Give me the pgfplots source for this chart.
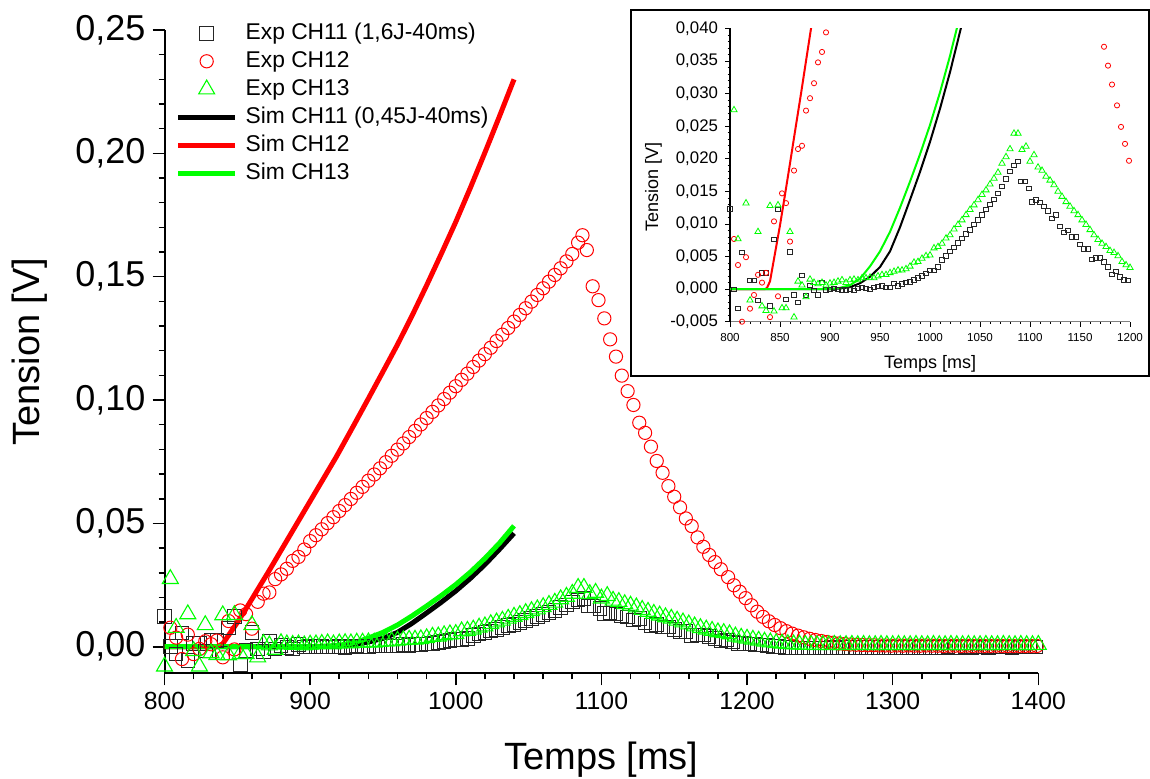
\documentclass[border=0pt]{standalone}
\usepackage{pgfplots}
\pgfplotsset{compat=1.18}
\usepackage{pgfplotstable}
\usepackage{fontspec}
\setmainfont{Liberation Sans}
\definecolor{cred}{RGB}{255,0,0}
\definecolor{cgreen}{RGB}{0,255,0}

\pgfplotstableread{
t v
800 0.0123
804 0.0000
808 -0.0030
812 0.0056
816 -0.0055
820 0.0013
824 0.0013
828 -0.0017
832 0.0025
836 0.0025
840 -0.0026
844 0.0076
848 0.0122
852 -0.0074
856 -0.0016
860 0.0057
864 -0.0009
868 -0.0020
872 0.0021
876 -0.0010
880 0.0006
884 -0.0002
888 -0.0009
892 0.0010
896 -0.0001
900 0.0000
904 0.0001
908 0.0000
912 -0.0001
916 -0.0001
920 0.0000
924 -0.0002
928 0.0001
932 0.0003
936 0.0001
940 0.0000
944 0.0003
948 0.0004
952 0.0005
956 0.0003
960 0.0003
964 0.0009
968 0.0005
972 0.0008
976 0.0010
980 0.0011
984 0.0014
988 0.0017
992 0.0020
996 0.0024
1000 0.0029
1004 0.0029
1008 0.0034
1012 0.0045
1016 0.0051
1020 0.0058
1024 0.0064
1028 0.0071
1032 0.0078
1036 0.0085
1040 0.0091
1044 0.0099
1048 0.0106
1052 0.0114
1056 0.0122
1060 0.0130
1064 0.0138
1068 0.0147
1072 0.0158
1076 0.0169
1080 0.0181
1084 0.0190
1088 0.0196
1091 0.0165
1095 0.0165
1099 0.0155
1102 0.0134
1106 0.0137
1110 0.0133
1114 0.0127
1118 0.0120
1122 0.0109
1126 0.0114
1130 0.0096
1134 0.0087
1138 0.0090
1142 0.0080
1146 0.0080
1150 0.0069
1154 0.0062
1158 0.0062
1162 0.0046
1166 0.0048
1170 0.0048
1174 0.0042
1178 0.0034
1182 0.0023
1186 0.0027
1190 0.0019
1194 0.0014
1198 0.0013
1202 0.0011
1206 0.0009
1210 0.0007
1214 0.0004
1218 0.0002
1222 0.0000
1226 -0.0002
1230 -0.0004
1234 -0.0005
1238 -0.0006
1242 -0.0006
1246 -0.0005
1250 -0.0006
1254 -0.0005
1258 -0.0004
1262 -0.0005
1266 -0.0004
1270 -0.0004
1274 -0.0003
1278 -0.0004
1282 -0.0003
1286 -0.0003
1290 -0.0004
1294 -0.0003
1298 -0.0002
1302 -0.0003
1306 -0.0003
1310 -0.0002
1314 -0.0003
1318 -0.0002
1322 -0.0002
1326 -0.0003
1330 -0.0002
1334 -0.0002
1338 -0.0001
1342 -0.0002
1346 -0.0002
1350 -0.0001
1354 -0.0002
1358 -0.0001
1362 -0.0001
1366 -0.0002
1370 -0.0001
1374 -0.0001
1378 -0.0001
1382 -0.0002
1386 -0.0001
1390 -0.0001
1394 -0.0001
1398 -0.0001
}\expA

\pgfplotstableread{
t v
804 0.0077
808 0.0037
812 -0.0050
816 0.0049
820 -0.0030
824 -0.0009
828 0.0022
832 0.0010
836 0.0025
840 -0.0043
844 0.0104
848 -0.0011
852 0.0147
856 0.0132
860 0.0073
864 0.0182
868 0.0215
872 0.0220
876 0.0274
880 0.0293
884 0.0316
888 0.0348
892 0.0364
896 0.0394
900 0.0428
904 0.0452
908 0.0476
912 0.0501
916 0.0525
920 0.0550
924 0.0574
928 0.0599
932 0.0624
936 0.0648
940 0.0673
944 0.0698
948 0.0723
952 0.0748
956 0.0774
960 0.0799
964 0.0824
968 0.0850
972 0.0875
976 0.0901
980 0.0927
984 0.0952
988 0.0978
992 0.1004
996 0.1030
1000 0.1056
1004 0.1082
1008 0.1107
1012 0.1134
1016 0.1160
1020 0.1186
1024 0.1212
1028 0.1239
1032 0.1265
1036 0.1292
1040 0.1318
1044 0.1345
1048 0.1372
1052 0.1399
1056 0.1426
1060 0.1453
1064 0.1480
1068 0.1507
1072 0.1534
1076 0.1562
1080 0.1592
1084 0.1638
1087 0.1668
1090 0.1608
1094 0.1461
1098 0.1405
1102 0.1331
1106 0.1246
1110 0.1176
1114 0.1099
1118 0.1036
1122 0.0980
1126 0.0908
1130 0.0867
1134 0.0811
1138 0.0753
1142 0.0705
1146 0.0651
1150 0.0608
1154 0.0565
1158 0.0520
1162 0.0489
1166 0.0443
1170 0.0405
1174 0.0372
1178 0.0343
1182 0.0314
1187 0.0282
1191 0.0249
1195 0.0223
1199 0.0197
1203 0.0168
1207 0.0142
1211 0.0121
1215 0.0103
1219 0.0088
1223 0.0075
1227 0.0063
1231 0.0053
1235 0.0045
1239 0.0038
1243 0.0032
1247 0.0027
1251 0.0023
1255 0.0019
1259 0.0016
1263 0.0013
1267 0.0011
1271 0.0009
1275 0.0008
1279 0.0007
1283 0.0006
1287 0.0006
1291 0.0005
1295 0.0005
1299 0.0004
1303 0.0005
1307 0.0004
1311 0.0005
1315 0.0004
1319 0.0004
1323 0.0005
1327 0.0004
1331 0.0004
1335 0.0003
1339 0.0004
1343 0.0004
1347 0.0003
1351 0.0004
1355 0.0003
1359 0.0004
1363 0.0003
1367 0.0003
1371 0.0004
1375 0.0003
1379 0.0003
1383 0.0003
1387 0.0003
1391 0.0003
1395 0.0003
1399 0.0003
}\expB

\pgfplotstableread{
t v
800 -0.0080
804 0.0275
808 0.0077
816 0.0132
820 -0.0017
824 -0.0080
828 0.0088
832 -0.0026
836 -0.0033
840 0.0128
844 -0.0034
848 0.0129
852 -0.0029
856 -0.0029
860 0.0088
864 -0.0043
868 0.0012
872 0.0006
876 -0.0012
880 0.0015
884 0.0010
888 0.0008
892 0.0010
896 0.0006
900 0.0009
904 0.0010
908 0.0012
912 0.0014
916 0.0010
920 0.0014
924 0.0015
928 0.0014
932 0.0017
936 0.0017
940 0.0018
944 0.0017
948 0.0020
952 0.0022
956 0.0022
960 0.0025
964 0.0027
968 0.0029
972 0.0029
976 0.0031
980 0.0035
984 0.0041
988 0.0042
992 0.0047
996 0.0051
1000 0.0052
1004 0.0063
1008 0.0065
1012 0.0070
1016 0.0078
1020 0.0083
1024 0.0092
1028 0.0099
1032 0.0106
1036 0.0114
1040 0.0122
1044 0.0129
1048 0.0137
1052 0.0145
1056 0.0152
1060 0.0161
1064 0.0170
1068 0.0179
1072 0.0193
1076 0.0203
1080 0.0215
1084 0.0239
1088 0.0239
1092 0.0214
1096 0.0219
1100 0.0196
1104 0.0206
1108 0.0187
1112 0.0182
1116 0.0173
1120 0.0167
1124 0.0160
1128 0.0150
1132 0.0142
1136 0.0134
1140 0.0127
1144 0.0120
1148 0.0114
1152 0.0106
1156 0.0099
1160 0.0091
1164 0.0083
1168 0.0076
1172 0.0070
1176 0.0065
1180 0.0059
1184 0.0056
1188 0.0051
1192 0.0042
1196 0.0037
1200 0.0033
1204 0.0029
1208 0.0025
1212 0.0021
1216 0.0018
1220 0.0015
1224 0.0013
1228 0.0011
1232 0.0010
1236 0.0009
1240 0.0008
1244 0.0008
1248 0.0007
1252 0.0008
1256 0.0007
1260 0.0008
1264 0.0007
1268 0.0007
1272 0.0008
1276 0.0007
1280 0.0008
1284 0.0007
1288 0.0007
1292 0.0008
1296 0.0007
1300 0.0007
1304 0.0008
1308 0.0007
1312 0.0007
1316 0.0008
1320 0.0007
1324 0.0007
1328 0.0008
1332 0.0007
1336 0.0007
1340 0.0008
1344 0.0007
1348 0.0007
1352 0.0008
1356 0.0007
1360 0.0007
1364 0.0008
1368 0.0007
1372 0.0007
1376 0.0008
1380 0.0007
1384 0.0007
1388 0.0008
1392 0.0007
1396 0.0007
1400 0.0008
}\expC

\pgfplotstableread{
t v
800 0.0000
900 0.0000
910 0.0001
920 0.0003
930 0.0009
940 0.0019
950 0.0034
960 0.0058
970 0.0095
980 0.0137
990 0.0180
1000 0.0226
1010 0.0277
1020 0.0333
1030 0.0395
1040 0.0460
}\simA

\pgfplotstableread{
t v
800 0.0000
835 0.0000
837 0.0002
840 0.0012
845 0.0055
850 0.0098
855 0.0145
860 0.0193
865 0.0242
871 0.0300
880 0.0390
890 0.0490
900 0.0590
910 0.0690
918 0.0770
930 0.0898
940 0.1006
950 0.1115
960 0.1225
970 0.1342
980 0.1465
990 0.1592
1000 0.1722
1010 0.1860
1020 0.2003
1030 0.2150
1040 0.2300
}\simB

\pgfplotstableread{
t v
800 0.0000
895 0.0000
900 0.0000
910 0.0002
920 0.0006
930 0.0016
940 0.0035
950 0.0058
960 0.0088
970 0.0125
980 0.0165
990 0.0207
1000 0.0252
1010 0.0302
1020 0.0358
1030 0.0420
1040 0.0490
}\simC

\pgfplotsset{
  expleg/.style={legend image code/.code={\draw[##1, only marks] plot coordinates {(14.25pt,0pt)};}},
}

\begin{document}
\begin{tikzpicture}
\path[use as bounding box] (0,0) rectangle (575pt,389pt);
\begin{axis}[
  at={(82.25pt,52.35pt)}, anchor=south west,
  scale only axis, width=436.9pt, height=321.65pt,
  xmin=800, xmax=1400, ymin=-0.01078, ymax=0.25,
  scaled ticks=false,
  axis x line*=bottom, axis y line*=left,
  axis line style={-, line width=1pt},
  tick align=outside,
  major tick length=6pt, minor tick length=3pt,
  every tick/.style={black, line width=0.8pt},
  xtick={800,900,1000,1100,1200,1300,1400},
  xticklabels={800,900,1000,1100,1200,1300,1400},
  minor x tick num=4,
  ytick={0,0.05,0.1,0.15,0.2,0.25},
  yticklabels={{0,00},{0,05},{0,10},{0,15},{0,20},{0,25}},
  minor y tick num=4,
  xticklabel style={font=\fontsize{12.4}{14}\selectfont},
  yticklabel style={font=\fontsize{18}{20}\selectfont},
  xlabel={Temps [ms]}, ylabel={Tension [V]},
  every axis x label/.style={at={(axis description cs:0.5,-0.1503)}, anchor=base, font=\fontsize{19}{22}\selectfont},
  every axis y label/.style={at={(axis description cs:-0.1425,0.5)}, rotate=90, anchor=base, font=\fontsize{19}{22}\selectfont},
  legend style={at={(axis description cs:0.0128,1.012)}, anchor=north west, draw=none, fill=none,
    inner sep=0pt, outer sep=0pt, row sep=3pt, column sep=4pt,
    font=\fontsize{11.4}{13}\selectfont,
    nodes={inner sep=0pt, text height=8.5pt, text depth=2.5pt}},
  legend cell align=left,
  legend image code/.code={\draw[#1] (0pt,0pt) -- (28.5pt,0pt);},
]
\addplot[only marks, mark=square, mark size=3.4pt, mark options={draw=black!85, line width=0.5pt}, expleg] table[x=t,y=v] {\expA};
\addlegendentry{Exp CH11 (1,6J-40ms)}
\addplot[only marks, mark=o, mark size=3.3pt, mark options={draw=cred, line width=0.5pt}, expleg] table[x=t,y=v] {\expB};
\addlegendentry{Exp CH12}
\addplot[only marks, mark=triangle, mark size=4.6pt, mark options={draw=cgreen, line width=0.55pt}, expleg] table[x=t,y=v] {\expC};
\addlegendentry{Exp CH13}
\addplot[black, line width=2.5pt, no marks] table[x=t,y=v] {\simA};
\addlegendentry{Sim CH11 (0,45J-40ms)}
\addplot[cred, line width=2.5pt, no marks] table[x=t,y=v] {\simB};
\addlegendentry{Sim CH12}
\addplot[cgreen, line width=2.5pt, no marks] table[x=t,y=v] {\simC};
\addlegendentry{Sim CH13}
\end{axis}

\draw[line width=1pt, fill=white] (315.5pt,201pt) rectangle (574.5pt,384pt);

\begin{axis}[
  at={(365pt,228.15pt)}, anchor=south west,
  scale only axis, width=200pt, height=146.6pt,
  xmin=800, xmax=1200, ymin=-0.005, ymax=0.04,
  scaled ticks=false,
  axis x line*=bottom, axis y line*=left,
  axis line style={-, line width=0.6pt},
  x axis line style={gray},
  tick align=outside,
  major tick length=2.5pt, minor tick length=1.2pt,
  every tick/.style={black, line width=0.4pt},
  xtick={800,850,900,950,1000,1050,1100,1150,1200},
  xticklabels={800,850,900,950,1000,1050,1100,1150,1200},
  minor x tick num=4,
  ytick={-0.005,0,0.005,0.01,0.015,0.02,0.025,0.03,0.035,0.04},
  yticklabels={{-0,005},{0,000},{0,005},{0,010},{0,015},{0,020},{0,025},{0,030},{0,035},{0,040}},
  minor y tick num=4,
  xticklabel style={font=\fontsize{5.8}{7}\selectfont},
  yticklabel style={font=\fontsize{8.4}{10}\selectfont},
  xlabel={Temps [ms]}, ylabel={Tension [V]},
  every axis x label/.style={at={(axis description cs:0.5,-0.158)}, anchor=base, font=\fontsize{9}{11}\selectfont},
  every axis y label/.style={at={(axis description cs:-0.18,0.459)}, rotate=90, anchor=base, font=\fontsize{9}{11}\selectfont},
]
\addplot[only marks, mark=square, mark size=1.1pt, mark options={draw=black!85, line width=0.4pt}] table[x=t,y=v] {\expA};
\addplot[only marks, mark=o, mark size=1.3pt, mark options={draw=cred, line width=0.4pt}] table[x=t,y=v] {\expB};
\addplot[only marks, mark=triangle, mark size=1.8pt, mark options={draw=cgreen, line width=0.4pt}] table[x=t,y=v] {\expC};
\addplot[black, line width=1pt, no marks] table[x=t,y=v] {\simA};
\addplot[cred, line width=1pt, no marks] table[x=t,y=v] {\simB};
\addplot[cgreen, line width=1pt, no marks] table[x=t,y=v] {\simC};
\end{axis}
\end{tikzpicture}
\end{document}
